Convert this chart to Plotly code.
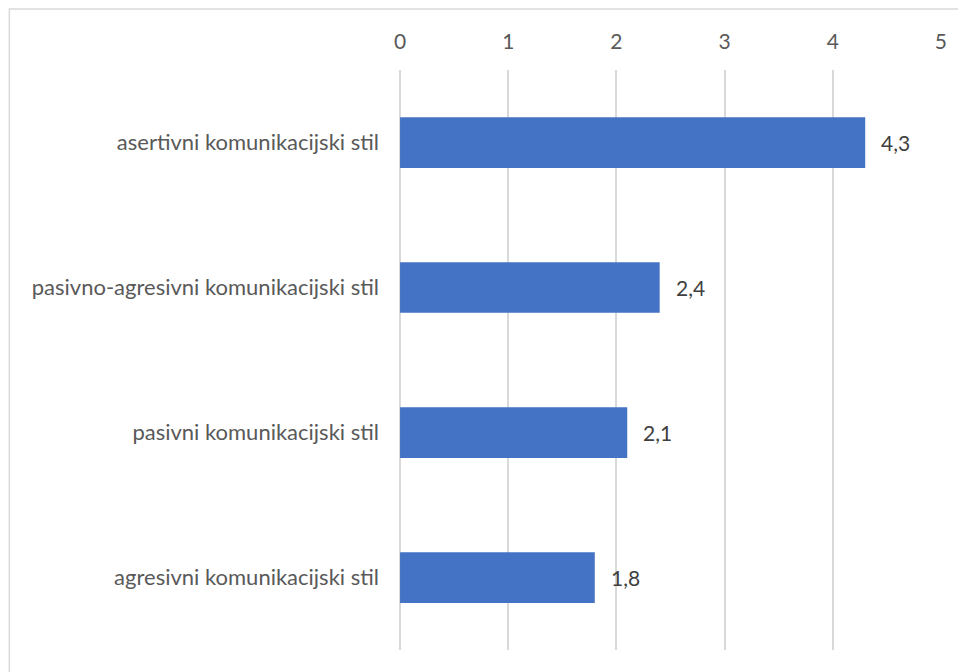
import plotly.graph_objects as go

categories = ["asertivni komunikacijski stil", "pasivno-agresivni komunikacijski stil",
              "pasivni komunikacijski stil", "agresivni komunikacijski stil"]
values = [4.3, 2.4, 2.1, 1.8]
tick_vals = [0, 1, 2, 3, 4, 5]

# page body has an 8px margin; compensate so the plot lands where the reference has it
W, H = 958, 664
L, R, T, B = 392, 24.5, 62, 22
pw, ph = W - L - R, H - T - B

fig = go.Figure(go.Bar(
    y=categories, x=values, orientation="h",
    marker=dict(color="#4472C4", line=dict(width=0)),
    width=0.35, hoverinfo="x+y",
))

for c, v in zip(categories, values):
    fig.add_annotation(x=v, y=c, xref="x", yref="y", text=f"{v:.1f}".replace(".", ","),
                       showarrow=False, xanchor="left", xshift=14,
                       font=dict(color="#404040", size=21, family="Lato"))

fig.update_layout(
    width=W, height=H, margin=dict(l=L, r=R, t=T, b=B),
    paper_bgcolor="white", plot_bgcolor="white",
    separators=",.",
    font=dict(family="Lato", size=21, color="#595959"),
    showlegend=False,
    xaxis=dict(side="top", range=[-0.0005, 5.0005], tickvals=tick_vals, showgrid=True,
               gridcolor="#d9d9d9", gridwidth=1.5, zeroline=True, zerolinecolor="#d9d9d9",
               zerolinewidth=1.5, showline=False, ticklabelstandoff=16, fixedrange=True),
    yaxis=dict(autorange="reversed", showgrid=False, showline=False, zeroline=False,
               ticklabelstandoff=20, tickfont=dict(size=22)),
    shapes=[dict(type="rect", xref="paper", yref="paper",
                 x0=(1 - L) / pw, x1=1.6, y0=-0.6, y1=1 + (T - 1) / ph,
                 line=dict(color="#d9d9d9", width=1.5), layer="below")],
)

fig.write_html("out.html")
